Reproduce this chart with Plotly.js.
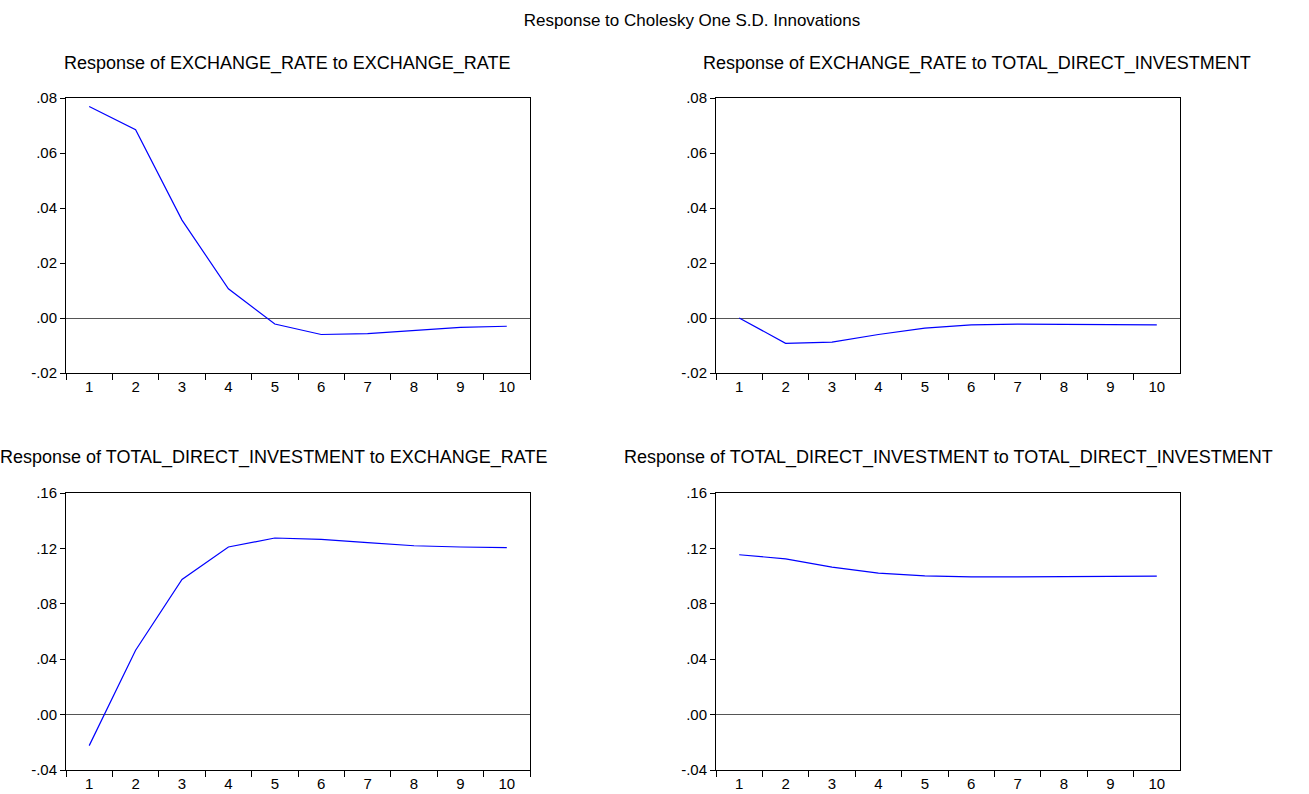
<!DOCTYPE html>
<html>
<head>
<meta charset="utf-8">
<script src="https://cdn.plot.ly/plotly-3.0.1.min.js"></script>
<style>html,body{margin:0;padding:0;background:#fff;}#chart{width:1309px;height:794px;}</style>
</head>
<body>
<div id="chart"></div>
<script>
var steps = ['1','2','3','4','5','6','7','8','9','10'];
var erToEr   = [0.0769, 0.0685, 0.0356, 0.0106, -0.0022, -0.0060, -0.0057, -0.0045, -0.0034, -0.0030];
var erToTdi  = [0.0000, -0.0092, -0.0088, -0.0060, -0.0037, -0.0025, -0.0022, -0.0023, -0.0024, -0.0025];
var tdiToEr  = [-0.0224, 0.0465, 0.0976, 0.1210, 0.1275, 0.1265, 0.1241, 0.1219, 0.1210, 0.1205];
var tdiToTdi = [0.1154, 0.1125, 0.1065, 0.1022, 0.1002, 0.0995, 0.0995, 0.0998, 0.1000, 0.1000];

var topTickVals = [-0.02, 0, 0.02, 0.04, 0.06, 0.08];
var topTickText = ['-.02', '.00', '.02', '.04', '.06', '.08'];
var botTickVals = [-0.04, 0, 0.04, 0.08, 0.12, 0.16];
var botTickText = ['-.04', '.00', '.04', '.08', '.12', '.16'];

var mainTitle = 'Response to Cholesky One S.D. Innovations';
var panelTitles = [
  'Response of EXCHANGE_RATE to EXCHANGE_RATE',
  'Response of EXCHANGE_RATE to TOTAL_DIRECT_INVESTMENT',
  'Response of TOTAL_DIRECT_INVESTMENT to EXCHANGE_RATE',
  'Response of TOTAL_DIRECT_INVESTMENT to TOTAL_DIRECT_INVESTMENT'
];

var W = 1309, H = 794;
function px(x){ return x / W; }
function py(y){ return 1 - y / H; }

var fam = 'Liberation Sans, Arial, sans-serif';

function xax(l, r){
  return {
    type: 'category', domain: [px(l), px(r)], range: [-0.5, 9.5],
    tickson: 'boundaries', ticks: 'outside', ticklen: 6, tickcolor: '#000', tickwidth: 1,
    showline: true, linecolor: '#000', linewidth: 1, mirror: true,
    showgrid: false, zeroline: false, fixedrange: true,
    tickfont: {family: fam, size: 15, color: '#000'}
  };
}
function yax(t, b, rng, vals, txt, anchor){
  return {
    domain: [py(b), py(t)], range: rng, anchor: anchor,
    tickvals: vals, ticktext: txt, ticks: 'outside', ticklen: 5, tickcolor: '#000', tickwidth: 1,
    showline: true, linecolor: '#000', linewidth: 1, mirror: true,
    showgrid: false, zeroline: true, zerolinecolor: '#555', zerolinewidth: 1,
    fixedrange: true,
    tickfont: {family: fam, size: 15, color: '#000'}
  };
}

var lineStyle = {color: '#0000ff', width: 1.2};
var traces = [
  {x: steps, y: erToEr,   xaxis: 'x',  yaxis: 'y',  mode: 'lines', line: lineStyle},
  {x: steps, y: erToTdi,  xaxis: 'x2', yaxis: 'y2', mode: 'lines', line: lineStyle},
  {x: steps, y: tdiToEr,  xaxis: 'x3', yaxis: 'y3', mode: 'lines', line: lineStyle},
  {x: steps, y: tdiToTdi, xaxis: 'x4', yaxis: 'y4', mode: 'lines', line: lineStyle}
];

var L1 = 66, R1 = 530, L2 = 716, R2 = 1180;
var T1 = 98, B1 = 373, T2 = 493, B2 = 770;

var x1 = xax(L1, R1); x1.anchor = 'y';
var x2 = xax(L2, R2); x2.anchor = 'y2';
var x3 = xax(L1, R1); x3.anchor = 'y3';
var x4 = xax(L2, R2); x4.anchor = 'y4';

var layout = {
  width: W, height: H,
  margin: {l: 0, r: 0, t: 0, b: 0},
  paper_bgcolor: '#fff', plot_bgcolor: '#fff',
  showlegend: false,
  title: {text: mainTitle, x: px(692), xanchor: 'center', y: py(20), yanchor: 'middle',
          font: {family: fam, size: 17, color: '#000'}},
  xaxis: x1, xaxis2: x2, xaxis3: x3, xaxis4: x4,
  yaxis:  yax(T1, B1, [-0.02, 0.08], topTickVals, topTickText, 'x'),
  yaxis2: yax(T1, B1, [-0.02, 0.08], topTickVals, topTickText, 'x2'),
  yaxis3: yax(T2, B2, [-0.04, 0.16], botTickVals, botTickText, 'x3'),
  yaxis4: yax(T2, B2, [-0.04, 0.16], botTickVals, botTickText, 'x4'),
  annotations: [
    {text: panelTitles[0], x: px(287), y: py(63)},
    {text: panelTitles[1], x: px(977), y: py(63)},
    {text: panelTitles[2], x: px(274), y: py(457)},
    {text: panelTitles[3], x: px(948), y: py(457)}
  ].map(function(a){
    a.xref = 'paper'; a.yref = 'paper'; a.showarrow = false;
    a.xanchor = 'center'; a.yanchor = 'middle';
    a.font = {family: fam, size: 18, color: '#000'};
    return a;
  })
};

Plotly.newPlot('chart', traces, layout, {displayModeBar: false, staticPlot: true});
</script>
</body>
</html>
